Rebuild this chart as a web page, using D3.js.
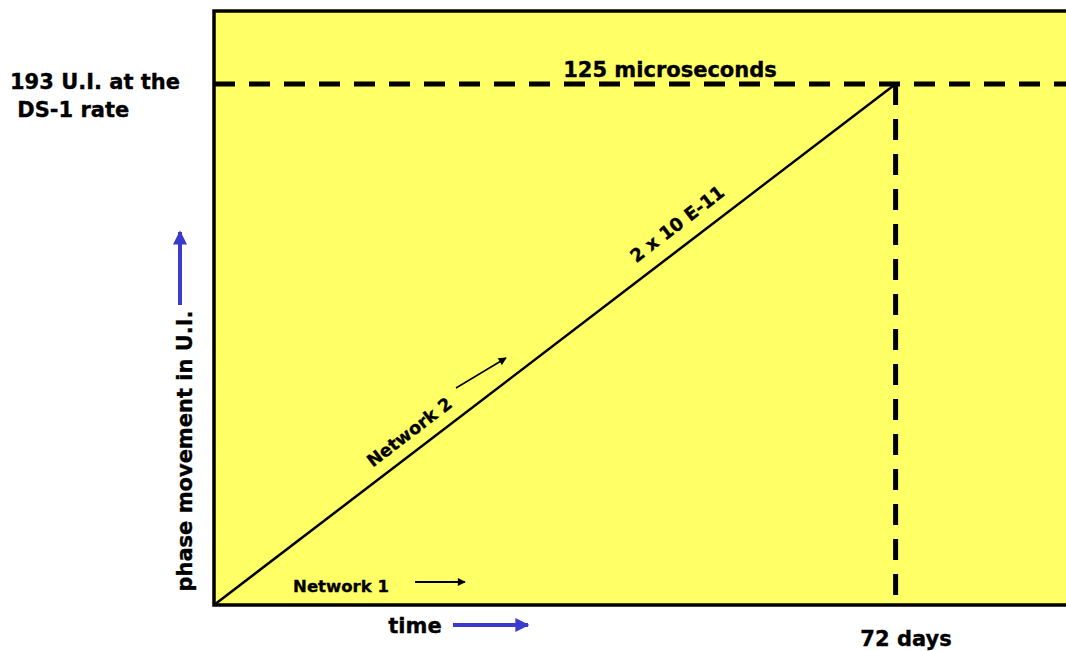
<!DOCTYPE html>
<html><head><meta charset="utf-8">
<script src="https://cdn.jsdelivr.net/npm/d3@7"></script>
<style>html,body{margin:0;padding:0;background:#fff;}svg text{font-family:"DejaVu Sans",Verdana,sans-serif;font-weight:bold;fill:#000;stroke:#000;stroke-width:0.35px;}</style>
</head><body>
<svg id="chart" width="1066" height="651"></svg>
<script>
// Data
const drift = [{days: 0, ui: 0}, {days: 72, ui: 193}];
const xDomain = [0, 90];     // time, days (plot extends past right edge)
const yDomain = [0, 220];    // phase movement, U.I.
const limitUI = 193;
const limitDays = 72;
const labels = {
  yTop: ["193 U.I. at the", " DS-1 rate"],
  hLine: "125 microseconds",
  slope: "2 x 10 E-11",
  net1: "Network 1",
  net2: "Network 2",
  yAxis: "phase movement in U.I.",
  xAxis: "time",
  xEnd: "72 days"
};

const svg = d3.select("#chart");
const x = d3.scaleLinear().domain(xDomain).range([214, 1066]);
const y = d3.scaleLinear().domain(yDomain).range([605, 11]);

const defs = svg.append("defs");
function marker(id, color, w, h) {
  defs.append("marker").attr("id", id).attr("viewBox", "0 0 10 10")
    .attr("refX", 9).attr("refY", 5).attr("markerWidth", w).attr("markerHeight", h)
    .attr("markerUnits", "userSpaceOnUse").attr("orient", "auto")
    .append("path").attr("d", "M0,0 L10,5 L0,10 z").attr("fill", color);
}
marker("blueHead", "#3a3acc", 18, 14);
marker("blackHead", "#000", 10, 8);

// plot area
svg.append("rect").attr("x", x(0)).attr("y", y(yDomain[1]))
  .attr("width", x(xDomain[1]) - x(0) + 10).attr("height", y(0) - y(yDomain[1]))
  .attr("fill", "#ffff66").attr("stroke", "#000").attr("stroke-width", 3.5);

// dashed lines
svg.append("line").attr("x1", x(0)).attr("x2", x(xDomain[1]))
  .attr("y1", y(limitUI)).attr("y2", y(limitUI))
  .attr("stroke", "#000").attr("stroke-width", 5).attr("stroke-dasharray", "21,14");
svg.append("line").attr("x1", x(limitDays)).attr("x2", x(limitDays))
  .attr("y1", y(limitUI)).attr("y2", y(0))
  .attr("stroke", "#000").attr("stroke-width", 5).attr("stroke-dasharray", "21,14");

// drift line
svg.append("path").datum(drift)
  .attr("d", d3.line().x(d => x(d.days)).y(d => y(d.ui)))
  .attr("fill", "none").attr("stroke", "#000").attr("stroke-width", 2.5);

const angle = -Math.atan2(y(0) - y(limitUI), x(limitDays) - x(0)) * 180 / Math.PI;

// texts
const fs = 21;
svg.append("text").attr("x", 10).attr("y", 89).attr("font-size", fs).text(labels.yTop[0]);
svg.append("text").attr("x", 10).attr("y", 117).attr("font-size", fs).attr("xml:space", "preserve").text(labels.yTop[1]);
svg.append("text").attr("x", 670).attr("y", 77).attr("text-anchor", "middle").attr("font-size", fs).text(labels.hLine);
svg.append("text").attr("x", 906).attr("y", 646).attr("text-anchor", "middle").attr("font-size", fs).text(labels.xEnd);
svg.append("text").attr("x", 415).attr("y", 633).attr("text-anchor", "middle").attr("font-size", fs).text(labels.xAxis);
svg.append("text").attr("x", 341).attr("y", 592).attr("text-anchor", "middle").attr("font-size", 16.5).text(labels.net1);
svg.append("text").attr("transform", `translate(192,451) rotate(-90)`).attr("text-anchor", "middle").attr("font-size", fs).text(labels.yAxis);
svg.append("text").attr("transform", `translate(413,437) rotate(${angle})`).attr("text-anchor", "middle").attr("font-size", 17.5).text(labels.net2);
svg.append("text").attr("transform", `translate(681,229) rotate(${angle})`).attr("text-anchor", "middle").attr("font-size", 18).text(labels.slope);

// arrows
svg.append("line").attr("x1", 180).attr("y1", 305).attr("x2", 180).attr("y2", 232)
  .attr("stroke", "#3a3acc").attr("stroke-width", 4).attr("marker-end", "url(#blueHead)");
svg.append("line").attr("x1", 453).attr("y1", 625).attr("x2", 528).attr("y2", 625)
  .attr("stroke", "#3a3acc").attr("stroke-width", 4).attr("marker-end", "url(#blueHead)");
svg.append("line").attr("x1", 415).attr("y1", 582).attr("x2", 465).attr("y2", 582)
  .attr("stroke", "#000").attr("stroke-width", 2).attr("marker-end", "url(#blackHead)");
svg.append("line").attr("x1", 456).attr("y1", 388).attr("x2", 506).attr("y2", 358)
  .attr("stroke", "#000").attr("stroke-width", 1.5).attr("marker-end", "url(#blackHead)");
</script>
</body></html>
